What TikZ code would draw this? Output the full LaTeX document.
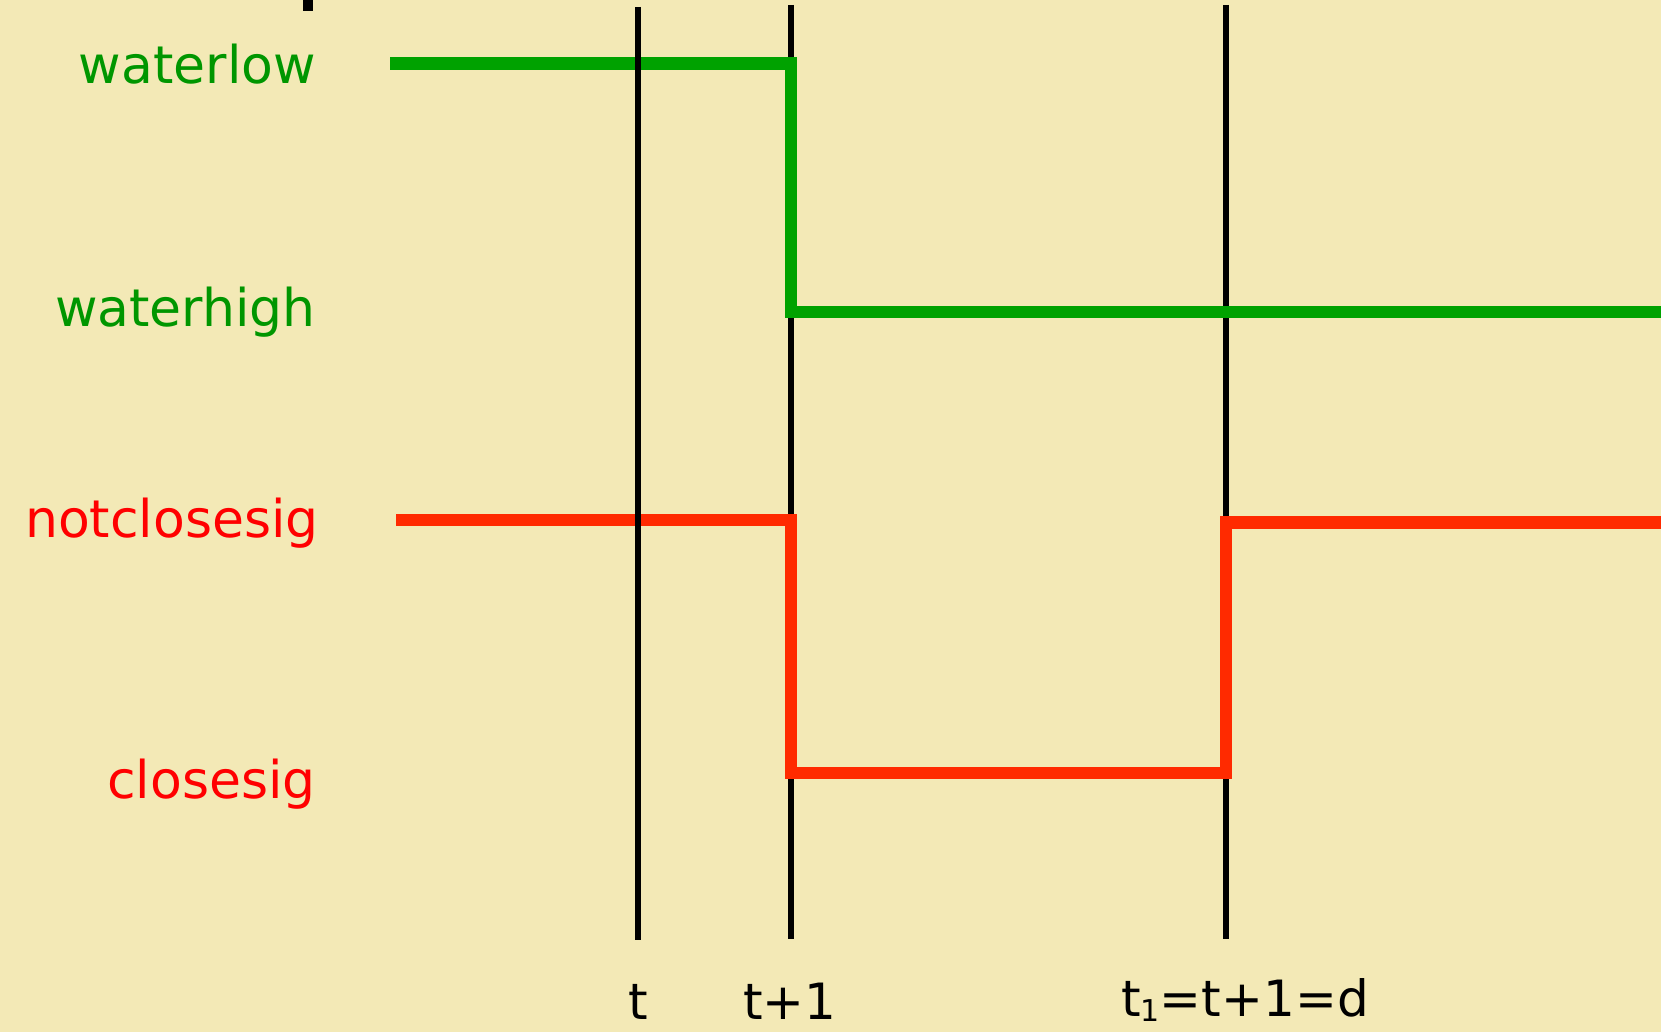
\documentclass[tikz,border=0pt]{standalone}
\usepackage{fontspec}
\setmainfont{DejaVu Sans}
\definecolor{bgc}{RGB}{243,233,182}
\definecolor{sigG}{RGB}{0,162,0}
\definecolor{txtG}{RGB}{0,150,0}
\definecolor{sigR}{RGB}{255,42,0}
\definecolor{txtR}{RGB}{255,0,0}
\begin{document}
\begin{tikzpicture}[x=1pt,y=-1pt,
  timeline/.style={draw=black,line width=6pt},
  greensig/.style={draw=sigG,line width=12.5pt,miter limit=10},
  redsig/.style={draw=sigR,line width=12.5pt,miter limit=10},
  glabel/.style={text=txtG,font=\fontsize{52}{60}\selectfont,anchor=base east,inner sep=0pt},
  rlabel/.style={text=txtR,font=\fontsize{52}{60}\selectfont,anchor=base east,inner sep=0pt},
  tlabel/.style={text=black,font=\fontsize{50}{58}\selectfont,anchor=base,inner sep=0pt}]
\fill[bgc] (0,0) rectangle (1661,1032);
\useasboundingbox (0,0) rectangle (1661,1032);
% small mark at top
\fill[black] (303,0) rectangle (313,11);
% time lines
\coordinate (t1top) at (791,5);
\coordinate (t1bot) at (791,939);
\coordinate (t2top) at (1226,5);
\coordinate (t2bot) at (1226,939);
\coordinate (t0top) at (638,7);
\coordinate (t0bot) at (638,940);
\draw[timeline] (t1top) -- (t1bot);
\draw[timeline] (t2top) -- (t2bot);
% labels
\node[glabel] (wl) at (316,84) {waterlow};
\node[glabel] (wh) at (316,326) {waterhigh};
\node[rlabel] (nc) at (319,537) {notclosesig};
\node[rlabel] (cs) at (316,798) {closesig};
% green signal
\coordinate (g0) at (390,63.5);
\coordinate (g1) at (791,63.5);
\coordinate (g2) at (791,312);
\coordinate (g3) at (1661,312);
\draw[greensig] (g0) -- (g1) -- (g2) -- (g3);
% red signal
\coordinate (r0) at (396,520);
\coordinate (r1) at (791,520);
\coordinate (r2) at (791,773);
\coordinate (r3) at (1226,773);
\coordinate (r4) at (1226,522.5);
\coordinate (r5) at (1661,522.5);
\draw[redsig] (r0) -- (r1) -- (r2) -- (r3) -- (r4) -- (r5);
% t line on top
\draw[timeline] (t0top) -- (t0bot);
% bottom labels
\node[tlabel] (lt) at (638,1019) {t};
\node[tlabel] (ltp) at (790,1019) {t+1};
\node[tlabel] (ltd) at (1245,1016) {t\raisebox{-5pt}{\fontsize{30}{30}\selectfont 1}=t+1=d};
\end{tikzpicture}
\end{document}
